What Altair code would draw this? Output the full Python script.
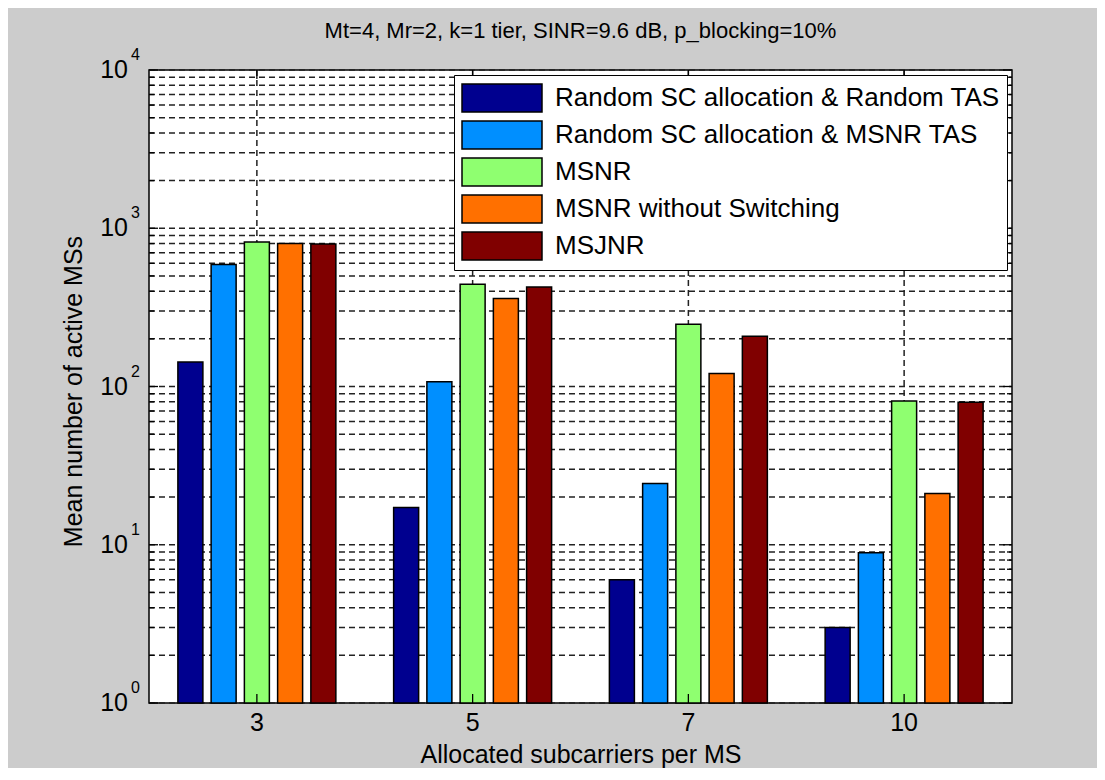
import altair as alt
import pandas as pd

# ---- data ----
categories = ["3", "5", "7", "10"]
series = [
    "Random SC allocation & Random TAS",
    "Random SC allocation & MSNR TAS",
    "MSNR",
    "MSNR without Switching",
    "MSJNR",
]
random_random = [143, 17.2, 6.0, 3.0]
random_msnr = [590, 107, 24.4, 8.9]
msnr = [820, 442, 247, 81]
msnr_no_switch = [800, 360, 121, 21.1]
msjnr = [795, 426, 208, 79.4]
colors = ["#00008F", "#008FFF", "#8FFF70", "#FF7000", "#800000"]

decades = [1, 10, 100, 1000, 10000]
exponents = ["0", "1", "2", "3", "4"]
minor_mult = [2, 3, 4, 5, 6, 7, 8, 9]

title_text = "Mt=4, Mr=2, k=1 tier, SINR=9.6 dB, p_blocking=10%"
x_title = "Allocated subcarriers per MS"
y_title = "Mean number of active MSs"

W, H = 863, 633
FONT = "Liberation Sans"

# ---- tables ----
all_vals = [random_random, random_msnr, msnr, msnr_no_switch, msjnr]
rows = []
for s, vals in zip(series, all_vals):
    for c, v in zip(categories, vals):
        rows.append({"cat": c, "series": s, "value": v})
bars_df = pd.DataFrame(rows)

grid_vals = []
for d in decades[:-1]:
    grid_vals.append({"v": d, "major": True})
    for m in minor_mult:
        grid_vals.append({"v": m * d, "major": False})
grid_vals.append({"v": decades[-1], "major": True})
grid_df = pd.DataFrame(grid_vals)
major_df = grid_df[grid_df["major"]]
minor_df = grid_df[~grid_df["major"]]

cat_df = pd.DataFrame({"cat": categories})
ylab_df = pd.DataFrame({"v": decades, "e": exponents})
ytitle_df = pd.DataFrame({"t": [y_title]})

xscale = alt.Scale(domain=categories, paddingInner=0, paddingOuter=0)
yscale = alt.Scale(type="log", domain=[1, 10000], nice=False)

X = alt.X(
    "cat:N",
    sort=categories,
    scale=xscale,
    axis=alt.Axis(
        title=x_title,
        labelAngle=0,
        labelFont=FONT,
        labelFontSize=25,
        labelColor="black",
        labelPadding=7,
        ticks=False,
        domain=False,
        grid=False,
        titleFont=FONT,
        titleFontSize=25,
        titleFontWeight="normal",
        titleColor="black",
        titlePadding=7,
    ),
)
YN = alt.Y("v:Q", scale=yscale, axis=None)

dash = [6, 4]
gcol = "#222222"

hgrid = alt.Chart(grid_df).mark_rule(strokeDash=dash, color=gcol, strokeWidth=1.5).encode(
    y=YN, x=alt.value(0), x2=alt.value(W)
)
vgrid = alt.Chart(cat_df).mark_rule(strokeDash=dash, color=gcol, strokeWidth=1.5).encode(
    x=X, y=alt.value(0), y2=alt.value(H)
)

bars = alt.Chart(bars_df).mark_bar(stroke="black", strokeWidth=1.5).encode(
    x=X,
    xOffset=alt.XOffset(
        "series:N",
        sort=series,
        scale=alt.Scale(domain=series, paddingInner=0.248, paddingOuter=0.869),
    ),
    y=alt.Y("value:Q", scale=yscale, axis=None),
    y2=alt.datum(1),
    color=alt.Color(
        "series:N",
        sort=series,
        scale=alt.Scale(domain=series, range=colors),
        legend=alt.Legend(
            title=None,
            orient="none",
            legendX=305,
            legendY=5,
            direction="vertical",
            symbolType="M-1,-0.9333H4.3333V0.9333H-1Z",
            symbolSize=900,
            symbolStrokeColor="black",
            symbolStrokeWidth=1.5,
            symbolOpacity=1,
            labelFont=FONT,
            labelFontSize=26,
            labelColor="black",
            labelOffset=62,
            labelLimit=0,
            rowPadding=3,
            padding=7,
            strokeColor="black",
            fillColor="white",
        ),
    ),
)

# inward ticks (left/right for y, top/bottom for x)
tick_l_major = alt.Chart(major_df).mark_rule(color="black", strokeWidth=1.3).encode(
    y=YN, x=alt.value(0), x2=alt.value(9)
)
tick_l_minor = alt.Chart(minor_df).mark_rule(color="black", strokeWidth=1.3).encode(
    y=YN, x=alt.value(0), x2=alt.value(5)
)
tick_r_major = alt.Chart(major_df).mark_rule(color="black", strokeWidth=1.3).encode(
    y=YN, x=alt.value(W - 9), x2=alt.value(W)
)
tick_r_minor = alt.Chart(minor_df).mark_rule(color="black", strokeWidth=1.3).encode(
    y=YN, x=alt.value(W - 5), x2=alt.value(W)
)
tick_top = alt.Chart(cat_df).mark_rule(color="black", strokeWidth=1.3).encode(
    x=X, y=alt.value(0), y2=alt.value(9)
)
tick_bot = alt.Chart(cat_df).mark_rule(color="black", strokeWidth=1.3).encode(
    x=X, y=alt.value(H - 9), y2=alt.value(H)
)

# y tick labels as 10 with superscript exponent
ylab_base = alt.Chart(ylab_df).mark_text(
    font=FONT, fontSize=25, color="black", align="right", baseline="middle"
).encode(y=YN, x=alt.value(-21), text=alt.value("10"))
ylab_exp = alt.Chart(ylab_df).mark_text(
    font=FONT, fontSize=16, color="black", align="left", baseline="middle", dy=-15
).encode(y=YN, x=alt.value(-18), text="e:N")

# y axis title (vertical)
ytitle = alt.Chart(ytitle_df).mark_text(
    font=FONT, fontSize=25, color="black", align="center", baseline="alphabetic", angle=270
).encode(x=alt.value(-67), y=alt.value(H / 2 + 5), text="t:N")

chart = alt.layer(
    hgrid, vgrid, bars, tick_l_major, tick_l_minor, tick_r_major, tick_r_minor,
    tick_top, tick_bot, ylab_base, ylab_exp, ytitle
).properties(
    width=W,
    height=H,
    title=alt.TitleParams(
        title_text,
        font=FONT,
        fontSize=22,
        fontWeight="normal",
        color="black",
        anchor="middle",
        offset=4,
    ),
    autosize=alt.AutoSizeParams(type="none"),
    padding={"left": 141, "top": 62, "right": 85, "bottom": 65},
).configure(
    background="#cccccc"
).configure_view(
    fill="white", stroke="black", strokeWidth=1.5
)

chart.save("out.html", embed_options={"renderer": "svg", "actions": False})
